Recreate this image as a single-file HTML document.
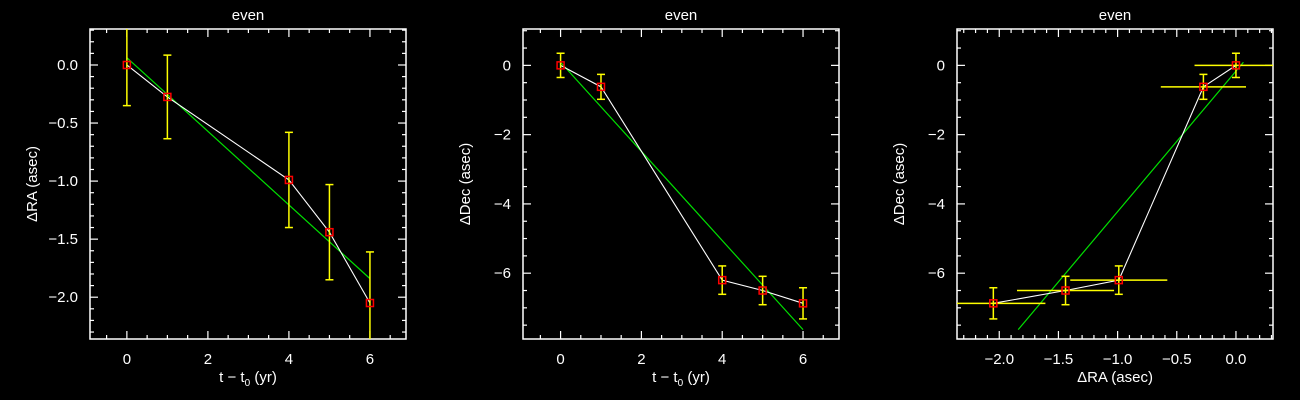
<!DOCTYPE html>
<html><head><meta charset="utf-8"><style>
html,body{margin:0;padding:0;background:#000;}
svg{display:block;}
text{font-family:"Liberation Sans",sans-serif;fill:#fff;font-size:15px;}
</style></head>
<body>
<svg id="chart" width="1300" height="400" viewBox="0 0 1300 400" xmlns="http://www.w3.org/2000/svg"></svg>
<script>
const epochs = [0, 1, 4, 5, 6];
const raValues = [0, -0.275, -0.99, -1.44, -2.05];
const raErrors = [0.35, 0.36, 0.41, 0.41, 0.44];
const decValues = [0, -0.62, -6.2, -6.5, -6.87];
const decErrors = [0.35, 0.36, 0.41, 0.41, 0.45];
const fitRA = [0.063, -1.84];
const fitDec = [0.09, -7.63];
const fitT = [0, 6];
const timeTicks = [0, 2, 4, 6];
const raTicks = [0.0, -0.5, -1.0, -1.5, -2.0];
const decTicks = [0, -2, -4, -6];

const NS = "http://www.w3.org/2000/svg";
const svg = document.getElementById("chart");
function mk(tag, attrs, parent){
  const e = document.createElementNS(NS, tag);
  for (const k in attrs) e.setAttribute(k, attrs[k]);
  (parent||svg).appendChild(e);
  return e;
}
function fmt(v, dec){ const s = Math.abs(v).toFixed(dec); return (v < 0 ? "\u2212" : "") + s; }

function panel(idx, left, xr, yr, xMajor, xMinorStep, yMajor, yMinorStep, xDec, yDec, xlabel, ylabel, xs, ys, xerr, yerr, fx, fy){
  const top = 29, W = 316, H = 310;
  const X = v => left + (v - xr[0]) / (xr[1] - xr[0]) * W;
  const Y = v => top + (yr[1] - v) / (yr[1] - yr[0]) * H;
  const g = mk("g", {});
  
  
  const clipId = "clip" + idx;
  const cp = mk("clipPath", {id: clipId}, g);
  mk("rect", {x: left, y: top, width: W, height: H}, cp);

  const title = mk("text", {x: left + W/2, y: 20, "text-anchor": "middle"}, g);
  title.textContent = "even";
  
  

  const frame = mk("rect", {x: left, y: top, width: W, height: H, fill: "none", stroke: "#fff", "stroke-width": 1.5}, g);
  
  

  // ticks
  const tg = mk("g", {stroke: "#fff", "stroke-width": 1.2}, g);
  
  
  const isMajor = (v, arr) => arr.some(m => Math.abs(m - v) < 1e-6);
  for (let v = Math.ceil(xr[0]/xMinorStep)*xMinorStep; v <= xr[1] + 1e-9; v += xMinorStep){
    const L = isMajor(v, xMajor) ? 8 : 4, px = X(v);
    mk("line", {x1: px, x2: px, y1: top+H, y2: top+H-L}, tg);
    mk("line", {x1: px, x2: px, y1: top, y2: top+L}, tg);
  }
  for (let v = Math.ceil(yr[0]/yMinorStep)*yMinorStep; v <= yr[1] + 1e-9; v += yMinorStep){
    const L = isMajor(v, yMajor) ? 8 : 4, py = Y(v);
    mk("line", {x1: left, x2: left+L, y1: py, y2: py}, tg);
    mk("line", {x1: left+W, x2: left+W-L, y1: py, y2: py}, tg);
  }
  xMajor.forEach(v => {
    const t = mk("text", {x: X(v), y: top+H+25, "text-anchor": "middle"}, g);
    t.textContent = fmt(v, xDec);
    
    
  });
  yMajor.forEach(v => {
    const t = mk("text", {x: left-12, y: Y(v)+5, "text-anchor": "end"}, g);
    t.textContent = fmt(v, yDec);
    
    
  });
  const xl = mk("text", {x: left + W/2, y: 382, "text-anchor": "middle"}, g);
  xl.innerHTML = xlabel;
  
  
  const yl = mk("text", {x: 0, y: 0, "text-anchor": "middle", transform: "translate(" + (left-53) + "," + (top+H/2) + ") rotate(-90)"}, g);
  yl.innerHTML = ylabel;
  
  

  const dg = mk("g", {"clip-path": "url(#" + clipId + ")"}, g);
  // fit line
  const fit = mk("line", {x1: X(fx[0]), y1: Y(fy[0]), x2: X(fx[1]), y2: Y(fy[1]), stroke: "#00e000", "stroke-width": 1.2}, dg);
  
  
  // connecting line
  const pl = mk("polyline", {points: xs.map((x,i) => X(x) + "," + Y(ys[i])).join(" "), fill: "none", stroke: "#fff", "stroke-width": 1.1}, dg);
  
  
  xs.forEach((x, i) => {
    const px = X(x), py = Y(ys[i]);
    const eg = mk("g", {stroke: "#ffff00", "stroke-width": 1.5}, dg);
    
    
    if (yerr){
      const y1 = Y(ys[i] + yerr[i]), y2 = Y(ys[i] - yerr[i]);
      mk("line", {x1: px, x2: px, y1: y1, y2: y2}, eg);
      mk("line", {x1: px-4, x2: px+4, y1: y1, y2: y1}, eg);
      mk("line", {x1: px-4, x2: px+4, y1: y2, y2: y2}, eg);
    }
    if (xerr){
      mk("line", {x1: X(x - xerr[i]), x2: X(x + xerr[i]), y1: py, y2: py}, eg);
    }
  });
  xs.forEach((x, i) => {
    const r = mk("rect", {x: X(x)-3.5, y: Y(ys[i])-3.5, width: 7, height: 7, fill: "none", stroke: "#ff0000", "stroke-width": 1.5}, dg);
    
    
  });
}

const tLabel = 't \u2212 t<tspan font-size="10" dy="4">0</tspan><tspan dy="-4"> (yr)</tspan>';
panel(1, 90, [-0.91, 6.89], [-2.36, 0.31], timeTicks, 0.5, raTicks, 0.1, 0, 1,
  tLabel, '\u0394RA (asec)', epochs, raValues, null, raErrors, fitT, fitRA);
panel(2, 523, [-0.93, 6.89], [-7.9, 1.05], timeTicks, 0.5, decTicks, 0.5, 0, 0,
  tLabel, '\u0394Dec (asec)', epochs, decValues, null, decErrors, fitT, fitDec);
panel(3, 957, [-2.357, 0.313], [-7.9, 1.05], raTicks, 0.1, decTicks, 0.5, 1, 0,
  '\u0394RA (asec)', '\u0394Dec (asec)', raValues, decValues, raErrors, decErrors, fitRA, fitDec);
</script>
</body></html>
